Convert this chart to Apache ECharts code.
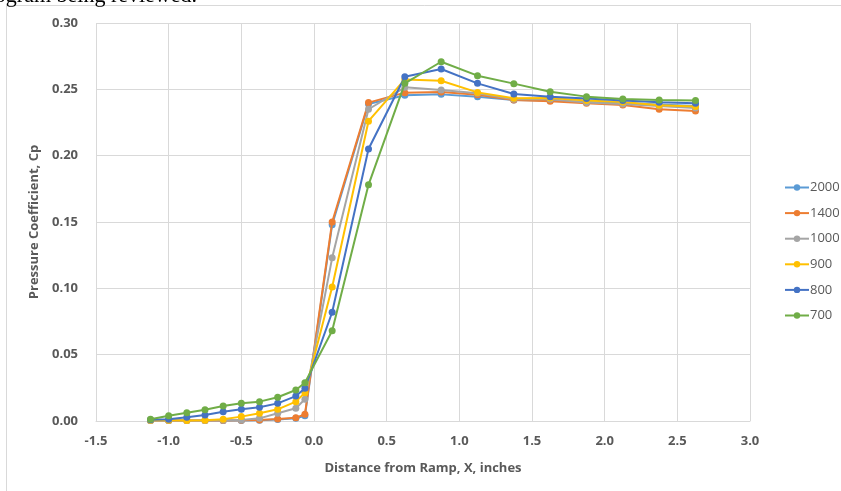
<!DOCTYPE html>
<html>
<head>
<meta charset="utf-8">
<script src="https://cdn.jsdelivr.net/npm/echarts@6/dist/echarts.min.js"></script>
<style>
  html, body { margin: 0; padding: 0; background: #ffffff; }
  #chart { width: 841px; height: 491px; }
</style>
</head>
<body>
<div id="chart"></div>
<script>
// Station positions along the ramp (inches)
const xPositions = [-1.125, -1.0, -0.875, -0.75, -0.625, -0.5, -0.375, -0.25, -0.125, -0.0625,
                    0.125, 0.375, 0.625, 0.875, 1.125, 1.375, 1.625, 1.875, 2.125, 2.375, 2.625];

// Pressure coefficient per run
const cp2000 = [0.0003, 0.0003, 0.0003, 0.0003, 0.0003, 0.0004, 0.0006, 0.0012, 0.0020, 0.0040,
                0.148, 0.239, 0.2455, 0.2462, 0.2445, 0.2420, 0.2415, 0.2405, 0.2395, 0.2385, 0.2375];
const cp1400 = [0.0003, 0.0003, 0.0003, 0.0003, 0.0003, 0.0005, 0.0008, 0.0015, 0.0025, 0.0050,
                0.150, 0.240, 0.2475, 0.2480, 0.2460, 0.2420, 0.2410, 0.2395, 0.2382, 0.2350, 0.2337];
const cp1000 = [0.0003, 0.0003, 0.0003, 0.0003, 0.0005, 0.0008, 0.0020, 0.0058, 0.0096, 0.0164,
                0.123, 0.235, 0.2515, 0.2495, 0.2470, 0.2425, 0.2425, 0.2400, 0.2390, 0.2375, 0.2360];
const cp900  = [0.0005, 0.0005, 0.0003, 0.0005, 0.0013, 0.0033, 0.0058, 0.0088, 0.0146, 0.0213,
                0.101, 0.226, 0.2575, 0.2565, 0.2477, 0.2432, 0.2435, 0.2415, 0.2405, 0.2380, 0.2370];
const cp800  = [0.0010, 0.0013, 0.0028, 0.0045, 0.0070, 0.0088, 0.0103, 0.0133, 0.0188, 0.0246,
                0.082, 0.205, 0.2595, 0.2653, 0.2545, 0.2465, 0.2445, 0.2430, 0.2415, 0.2402, 0.2395];
const cp700  = [0.0013, 0.0040, 0.0062, 0.0085, 0.0113, 0.0133, 0.0146, 0.0179, 0.0234, 0.0289,
                0.068, 0.178, 0.2545, 0.2708, 0.2603, 0.2543, 0.2482, 0.2445, 0.2427, 0.2420, 0.2415];

const seriesNames = ['2000', '1400', '1000', '900', '800', '700'];
const seriesValues = [cp2000, cp1400, cp1000, cp900, cp800, cp700];
const seriesColors = ['#5B9BD5', '#ED7D31', '#A5A5A5', '#FFC000', '#4472C4', '#70AD47'];

const axisFont = 'Open Sans, Liberation Sans, sans-serif';

const chart = echarts.init(document.getElementById('chart'), null, { renderer: 'canvas' });

const series = seriesNames.map((name, i) => ({
  name: name,
  type: 'line',
  data: xPositions.map((x, j) => [x, seriesValues[i][j]]),
  symbol: 'circle',
  symbolSize: 7,
  showSymbol: true,
  lineStyle: { width: 2, color: seriesColors[i] },
  itemStyle: { color: seriesColors[i] },
  z: 2 + i,
  animation: false
}));

chart.setOption({
  animation: false,
  backgroundColor: '#ffffff',
  grid: { left: 96, right: 91, top: 23, bottom: 70, containLabel: false },
  legend: {
    orient: 'vertical',
    left: 779,
    top: 176,
    itemWidth: 24,
    itemHeight: 8,
    itemGap: 12.6,
    data: seriesNames.map(n => ({ name: n })),
    itemStyle: { borderWidth: 0 },
    lineStyle: { width: 2 },
    textStyle: { fontFamily: axisFont, fontSize: 13, color: '#595959', padding: [0, 0, 0, -4] }
  },
  xAxis: {
    type: 'value',
    min: -1.5,
    max: 3.0,
    interval: 0.5,
    name: 'Distance from Ramp, X, inches',
    nameLocation: 'middle',
    nameGap: 41,
    nameTextStyle: { fontFamily: axisFont, fontSize: 13, fontWeight: 'bold', color: '#595959' },
    axisLine: { show: true, onZero: false, lineStyle: { color: '#d9d9d9', width: 1 } },
    axisTick: { show: false },
    axisLabel: {
      fontFamily: axisFont, fontSize: 13, fontWeight: 'bold', color: '#595959', margin: 14,
      formatter: v => v.toFixed(1)
    },
    splitLine: { show: true, lineStyle: { color: '#d9d9d9', width: 1 } }
  },
  yAxis: {
    type: 'value',
    min: 0,
    max: 0.30,
    interval: 0.05,
    name: 'Pressure Coefficient, Cp',
    nameLocation: 'middle',
    nameGap: 52,
    nameTextStyle: { fontFamily: axisFont, fontSize: 13, fontWeight: 'bold', color: '#595959' },
    axisLine: { show: false },
    axisTick: { show: false },
    axisLabel: {
      fontFamily: axisFont, fontSize: 13, fontWeight: 'bold', color: '#595959', margin: 18,
      formatter: v => v.toFixed(2)
    },
    splitLine: { show: true, lineStyle: { color: '#d9d9d9', width: 1 } }
  },
  graphic: [
    {
      type: 'rect',
      shape: { x: 6.5, y: 5.5, width: 900, height: 600 },
      style: { fill: null, stroke: '#d9d9d9', lineWidth: 1 },
      silent: true
    },
    {
      type: 'text',
      x: 197,
      y: -4,
      style: {
        text: 'program being reviewed.',
        font: '22px "Liberation Serif", serif',
        fill: '#000000',
        textAlign: 'right',
        textVerticalAlign: 'middle'
      },
      silent: true
    }
  ],
  series: series
});
</script>
</body>
</html>
